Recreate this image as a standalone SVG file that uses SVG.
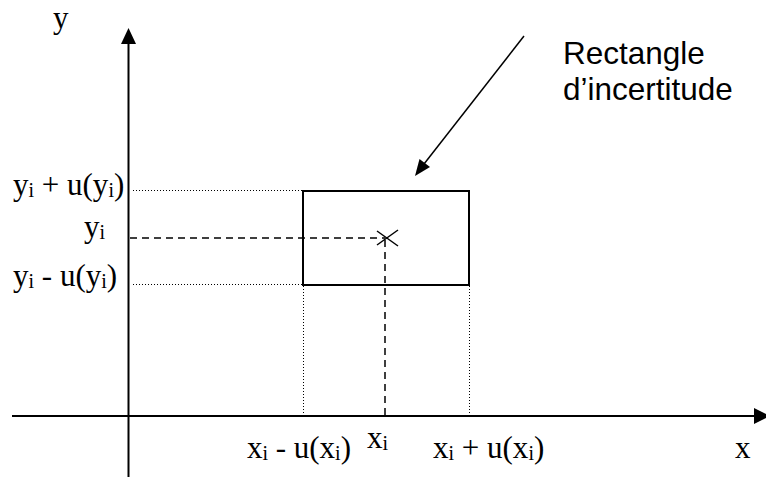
<svg xmlns="http://www.w3.org/2000/svg" width="766" height="477" viewBox="0 0 766 477">
<defs>
<style>
.ax{stroke:#000;stroke-width:2;fill:none}
.dot{stroke:#000;stroke-width:1;stroke-dasharray:1 2;fill:none}
.dash{stroke:#000;stroke-width:1.5;stroke-dasharray:7 5;fill:none}
.tm{font-family:"Liberation Serif","Times New Roman",serif;font-size:31px;fill:#000}
.sub{font-size:20px}
.ar{font-family:"Liberation Sans",Arial,sans-serif;font-size:31.5px;fill:#000}
</style>
</defs>
<rect width="766" height="477" fill="#fff"/>
<g id="connectors">
<line class="dot" x1="133" y1="190.5" x2="303" y2="190.5"/>
<line class="dot" x1="133" y1="284.5" x2="303" y2="284.5"/>
<line class="dot" x1="303.5" y1="286" x2="303.5" y2="416"/>
<line class="dot" x1="469.5" y1="286" x2="469.5" y2="416"/>
<line class="dash" x1="130" y1="238" x2="385" y2="238"/>
<line class="dash" x1="385" y1="240" x2="385" y2="416"/>
<line stroke="#000" stroke-width="1.5" x1="524" y1="36" x2="424" y2="164"/>
<path d="M415,176 L419.5,159 L430,167 Z" fill="#000"/>
</g>
<g id="axes">
<line class="ax" x1="128.5" y1="40" x2="128.5" y2="477"/>
<path d="M128.5,28 L121,44 L136,44 Z" fill="#000"/>
<line class="ax" x1="12" y1="416" x2="756" y2="416"/>
<path d="M770,416 L754,408 L754,424 Z" fill="#000"/>
</g>
<g id="rectangle">
<rect x="303" y="191" width="166" height="94" fill="none" stroke="#000" stroke-width="2"/>
<line stroke="#000" stroke-width="1.5" x1="377" y1="231" x2="398" y2="246"/>
<line stroke="#000" stroke-width="1.5" x1="398" y1="230" x2="377" y2="245"/>
</g>
<g id="label-rect">
<text class="ar" x="563" y="64">Rectangle</text>
<text class="ar" x="563" y="100">d’incertitude</text>
</g>
<g id="labels">
<text class="tm" x="53" y="28">y</text>
<text class="tm" x="13" y="195">y<tspan class="sub" dy="2">i</tspan><tspan dy="-2"> + u(y</tspan><tspan class="sub" dy="2">i</tspan><tspan dy="-2">)</tspan></text>
<text class="tm" x="84" y="237">y<tspan class="sub" dy="2">i</tspan></text>
<text class="tm" x="13" y="286">y<tspan class="sub" dy="2">i</tspan><tspan dy="-2"> - u(y</tspan><tspan class="sub" dy="2">i</tspan><tspan dy="-2">)</tspan></text>
<text class="tm" x="351" y="458" text-anchor="end">x<tspan class="sub" dy="2">i</tspan><tspan dy="-2"> - u(x</tspan><tspan class="sub" dy="2">i</tspan><tspan dy="-2">)</tspan></text>
<text class="tm" x="367" y="448">x<tspan class="sub" dy="2">i</tspan></text>
<text class="tm" x="433" y="458">x<tspan class="sub" dy="2">i</tspan><tspan dy="-2"> + u(x</tspan><tspan class="sub" dy="2">i</tspan><tspan dy="-2">)</tspan></text>
<text class="tm" x="735" y="458">x</text>
</g>
</svg>
